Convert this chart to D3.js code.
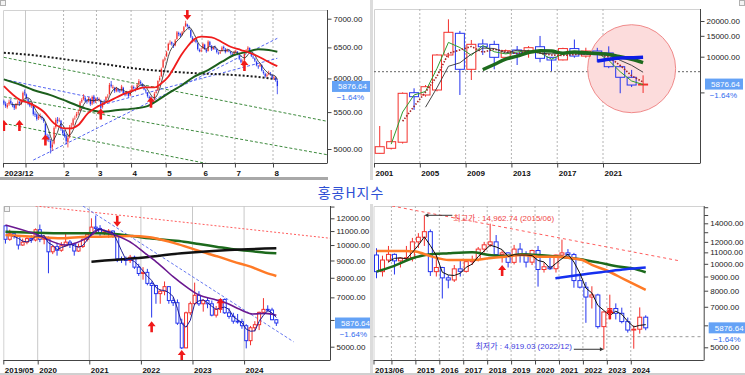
<!DOCTYPE html>
<html>
<head>
<meta charset="utf-8">
<title>홍콩H지수</title>
<script src="https://d3js.org/d3.v7.min.js"></script>
<style>
  body { margin: 0; background: #fff; }
  svg { display: block; font-family: "Liberation Sans", Arial, "Noto Sans CJK KR", sans-serif; }
  .yaxis text { font-family: "Liberation Sans", Arial, sans-serif; font-size: 8px; fill: #222; }
  .xaxis text { font-family: "Liberation Sans", Arial, sans-serif; font-size: 8px; font-weight: bold; fill: #111; }
  .tag { font-size: 8px; }
  .note { font-family: "Liberation Sans", "Noto Sans CJK KR", sans-serif; font-size: 8px; }
</style>
</head>
<body>
<svg width="745" height="375"></svg>
<script>
// last quote
const lastPrice = 5876.64;
const lastChange = -1.64;
const titleText = "홍콩H지수";

// ---------- daily 2023/12 ~ 2024/08  [open, high, low, close]
const dailyOHLC = [
  [5660,5680,5600,5620],[5625,5650,5560,5580],[5570,5630,5550,5600],[5610,5680,5590,5650],[5660,5690,5610,5630],
  [5620,5640,5570,5590],[5600,5610,5530,5560],[5550,5630,5540,5610],[5620,5670,5600,5640],[5650,5660,5590,5620],
  [5610,5680,5600,5660],[5670,5800,5660,5780],[5790,5830,5740,5770],
  [5760,5770,5680,5700],[5690,5700,5600,5620],[5630,5650,5570,5590],[5580,5640,5560,5600],[5590,5600,5450,5470],
  [5480,5510,5430,5460],[5470,5480,5380,5400],[5410,5460,5390,5430],[5440,5480,5410,5440],[5430,5450,5390,5410],
  [5400,5420,5350,5370],[5340,5350,5140,5160],[5170,5200,5100,5150],[5160,5190,5090,5120],[5110,5130,4943,5010],
  [5020,5090,4980,5060],[5070,5300,5060,5280],[5290,5420,5270,5390],[5400,5430,5340,5370],[5380,5420,5360,5390],
  [5380,5390,5240,5260],[5250,5270,5180,5210],
  [5220,5250,5150,5170],[5180,5200,5060,5100],[5090,5170,5020,5150],[5160,5320,5140,5290],[5300,5350,5260,5310],
  [5320,5420,5300,5400],[5410,5450,5390,5420],[5440,5500,5420,5480],[5490,5530,5460,5500],[5520,5660,5510,5640],
  [5650,5700,5630,5680],[5690,5760,5670,5720],[5710,5730,5640,5660],[5670,5690,5620,5650],[5660,5720,5640,5700],
  [5690,5700,5590,5610],[5620,5740,5600,5720],[5730,5750,5620,5640],[5650,5710,5630,5690],
  [5700,5720,5660,5690],[5680,5710,5650,5680],[5670,5680,5540,5560],[5570,5650,5550,5640],[5650,5680,5610,5640],
  [5650,5730,5640,5720],[5730,5760,5700,5740],[5760,5930,5750,5900],[5910,5960,5860,5880],[5870,5900,5840,5870],
  [5860,5870,5780,5800],[5810,5870,5790,5850],[5840,5850,5790,5810],[5820,5840,5780,5800],[5810,5900,5800,5880],
  [5860,5870,5750,5770],[5780,5790,5730,5750],[5760,5810,5740,5790],[5780,5800,5710,5730],[5740,5830,5730,5810],
  [5820,5900,5810,5880],[5870,5890,5830,5850],[5840,5860,5800,5830],[5840,5920,5830,5900],[5910,5990,5890,5960],
  [5950,5970,5900,5920],[5910,5930,5860,5880],[5870,5890,5820,5830],[5820,5840,5780,5800],[5780,5790,5710,5730],
  [5720,5740,5680,5700],[5710,5730,5660,5680],[5670,5690,5620,5650],[5680,5790,5670,5770],[5780,5830,5770,5800],
  [5820,5970,5810,5960],[5970,6040,5950,6010],[6030,6170,6020,6150],[6170,6310,6160,6290],[6300,6350,6270,6320],
  [6350,6440,6340,6420],[6450,6580,6440,6560],[6570,6620,6540,6580],[6590,6600,6530,6560],[6550,6570,6490,6520],
  [6530,6640,6520,6620],[6640,6780,6630,6760],[6750,6770,6690,6720],[6730,6750,6670,6700],[6710,6780,6700,6760],
  [6770,6870,6760,6850],[6870,6963,6850,6920],[6900,6910,6840,6870],[6860,6880,6800,6830],[6800,6810,6660,6680],
  [6670,6690,6580,6600],[6610,6650,6590,6620],[6630,6640,6570,6590],[6570,6580,6450,6470],[6460,6480,6420,6440],
  [6450,6490,6420,6450],
  [6480,6580,6470,6560],[6550,6560,6460,6470],[6460,6480,6410,6430],[6440,6620,6430,6600],[6590,6610,6520,6540],
  [6530,6540,6440,6460],[6470,6520,6460,6500],[6510,6530,6460,6480],[6470,6480,6400,6420],[6410,6430,6380,6400],
  [6410,6450,6390,6430],[6440,6520,6430,6500],[6510,6530,6460,6480],[6470,6490,6400,6420],[6430,6480,6420,6460],
  [6450,6470,6420,6440],[6430,6440,6380,6400],[6390,6410,6350,6380],[6390,6440,6380,6420],
  [6430,6460,6410,6440],[6430,6440,6370,6380],[6370,6380,6290,6310],[6300,6320,6240,6260],[6270,6300,6190,6280],
  [6290,6420,6280,6400],[6410,6470,6400,6450],[6460,6520,6440,6500],[6490,6500,6400,6420],[6410,6420,6340,6360],
  [6350,6370,6310,6330],[6320,6330,6260,6280],[6270,6280,6190,6200],[6190,6210,6150,6180],[6190,6240,6180,6220],
  [6210,6220,6110,6120],[6110,6130,6060,6080],[6070,6090,6010,6030],[6040,6080,6020,6060],[6070,6120,6050,6090],
  [6080,6100,6040,6060],[6050,6070,5990,6010],
  [6000,6040,5980,6020],[6010,6030,5950,5975],[5960,5990,5760,5876.64]
];
const dailyTicks = [[0,"2023/12"],[13,""],[35,"2"],[54,"3"],[74,"4"],[94,"5"],[115,"6"],[134,"7"],[156,"8"]];
const dailyYearStart = [13];
const dailyMa20 = [[0,5882],[9.5,5673],[15,5625],[23,5505],[29,5342],[35,5274],[39,5274],[43,5319],[48.5,5482],
  [54,5576],[62,5673],[70,5772],[75.5,5822],[81,5862],[87,5862],[91,5924],[95,6026],[98.6,6184],[102.5,6373],
  [106,6511],[110,6637],[114,6682],[120,6670],[125.6,6596],[131,6511],[137,6456],[143,6399],[149,6320],[154.5,6238],[158,6193]];
const dailyMa60 = [[0,5985],[10,5898],[17,5822],[27,5747],[37,5649],[47,5553],[56,5505],[66,5529],[76,5553],
  [83,5586],[89,5673],[95,5772],[103,5898],[110,6026],[118,6131],[126,6264],[133,6373],[141,6428],[147,6468],[153,6456],[158,6428]];
const dailyMa200 = [[0,6411],[17,6370],[37,6297],[56,6233],[76,6155],[95,6108],[114,6076],[133,6053],[149,6016],[158,5985]];
const dailyGreenTrends = [[[0,6335],[188,5365]], [[0,5722],[188,4922]], [[0,5342],[188,4524]]];
const dailyBlueTrends = [[[17,4859],[158,6654]], [[0,5985],[53,5699]], [[54,5586],[158,6320]]];
const dailyUpArrows = [[0,5390],[9,5390],[24,5190],[56,5553],[85,5722],[139,6291]];
const dailyDownArrows = [[106,6975]];

// ---------- yearly 2001 ~ 2024
const yearlyOHLC = [
  [1532,2604,1520,1742],[1689,2410,1650,1920],[1900,5000,1850,4913],[4970,5414,3553,4600],[4754,5770,4600,5585],
  [5238,10500,5100,10336],[10336,20670,9800,16060],[15750,16500,4754,7830],[7830,13830,6360,12720],[12800,14020,10330,12140],
  [12700,13640,7830,9880],[9880,11500,9500,11235],[11390,12310,8510,10680],[11020,12300,9800,11910],[12140,14963,8970,9690],
  [9880,9950,7576,9380],[9394,11900,9300,11709],[11709,13960,9800,10124],[10124,11900,9800,11168],[11170,11880,8990,10400],
  [10755,12229,8000,8236],[8236,8500,4919,6705],[6705,7740,5546,5769],[5769,6963,4943,5876.64]
];
const yearlyTicks = [[0,"2001"],[4,"2005"],[8,"2009"],[12,"2013"],[16,"2017"],[20,"2021"]];
const yearlyRefLine = 7473;
const yearlyCircle = [22.5, 7920];

// ---------- monthly 2019/05 ~ 2024/08
const monthlyOHLC = [
  [11400,11450,10100,10400],[10400,11100,10300,10800],[10800,11000,10450,10600],[10600,10650,9700,10000],[10000,10450,9950,10200],
  [10200,10550,10050,10450],[10450,10700,10150,10350],[10350,11200,10250,11100],[11100,11500,10200,10400],[10400,10700,10050,10500],
  [10450,10600,8250,9550],[9550,10000,9400,9890],[9890,10150,9300,9650],[9650,10200,9550,9950],[9950,10900,9900,10200],
  [10200,10350,9800,10050],[10050,10150,9300,9600],[9600,10100,9550,9900],[9900,10450,9800,10400],[10400,10800,10250,10755],
  [10755,12000,10700,11300],[11300,12229,11000,11200],[11200,11450,10600,10900],[10900,11100,10700,10950],[10950,11150,10500,11000],
  [11000,11050,10500,10700],[10700,10800,8900,9100],[9100,9250,8850,9050],[9050,9250,8700,9000],[9000,9350,8850,9200],
  [9200,9300,8500,8600],[8600,8800,8100,8236],[8236,8600,7900,8300],[8300,8500,7600,7700],[7700,7800,6100,7590],
  [7590,7620,6700,7180],[7180,7400,6700,7300],[7300,7800,7100,7530],[7530,7560,6700,6850],[6850,7000,6600,6750],
  [6750,6900,5800,5870],[5870,6050,4919,4960],[4960,6350,4950,6300],[6300,6800,6200,6705],[6705,7740,6650,7100],
  [7100,7300,6600,6700],[6700,6900,6350,6850],[6850,7000,6500,6700],[6700,6850,6150,6200],[6200,6600,6100,6450],
  [6450,6950,6300,6900],[6900,6950,6250,6300],[6300,6500,6050,6150],[6150,6300,5850,5950],[5950,6250,5850,5930],
  [5930,6050,5650,5769],[5769,5830,4943,5210],[5210,5760,5050,5690],[5690,5950,5550,5810],[5810,6350,5600,6320],
  [6320,6963,6300,6450],[6450,6630,6350,6420],[6420,6520,5990,6010],[6010,6040,5760,5876.64]
];
const monthlyTicks = [[0,"2019/05"],[8,"2020"],[20,"2021"],[32,"2022"],[44,"2023"],[56,"2024"]];
const monthlyMa12 = [[0,11460],[6.5,10831],[14,10000],[19.5,10588],[22,11130],[24.5,10831],[29.5,10117],[32.5,9450],
  [35.5,8827],[39,8060],[42,7528],[45,7110],[48.5,6905],[51.5,6720],[54.5,6450],[57.5,6250],[60.5,6277],[63,6200]];
const monthlyMa60 = [[0,10709],[6.5,10588],[13,10469],[19,10588],[22,10588],[29,10636],[33.5,10541],[36.5,10350],
  [39.5,10117],[42.5,9845],[45.5,9558],[49.5,9238],[53,8928],[57,8629],[60.5,8283],[63,8097]];
const monthlyMa120 = [[0,10955],[6.5,10880],[14,10831],[22,10831],[29.5,10636],[33.5,10469],[37.5,10350],[41.5,10234],
  [45,10071],[49,9890],[53,9711],[57,9600],[60.5,9493],[63,9450]];
const monthlyMa240 = [[20,8928],[30,9134],[41,9450],[52,9667],[63,9778]];
const monthlyRedTrend = [[7,13050],[75.6,10470]];
const monthlyBlueTrend = [[18,13050],[67,5172]];
const monthlyUpArrows = [[34,5946],[41,4888],[50,6953]];
const monthlyDownArrows = [[26,11335]];

// ---------- quarterly 2013/06 ~ 2024/09
const quarterlyOHLC = [
  [10760,11380,8870,9370],[9370,10700,9000,10320],[10320,11600,10100,10816],[10816,10900,9150,10250],[10250,10550,9700,10474],
  [10474,11600,10300,10520],[10520,12400,10200,12000],[12000,12900,11400,12470],[12470,14962.74,11600,13060],[13060,13300,9040,9370],
  [9370,10800,9000,9700],[9700,9750,7498,8900],[8900,9100,8160,8745],[8745,9900,8600,9590],[9590,10350,9000,9394],
  [9394,10300,9300,10180],[10180,10700,9900,10365],[10365,11500,10200,11300],[11300,12000,11000,11709],[11709,13962,11500,12000],
  [12000,12700,10700,10800],[10800,11200,10100,10950],[10950,11000,9700,10124],[10124,11700,9950,11300],[11300,11881,10100,10840],
  [10840,11100,9700,10140],[10140,11250,9900,11168],[11168,11600,8274,9540],[9540,10100,9300,9760],[9760,10500,9500,9600],
  [9600,10800,9300,10755],[10755,12229,10500,10950],[10950,11300,10500,10800],[10800,10950,8200,8700],[8700,9200,8150,8236],
  [8236,8600,6127,7590],[7590,8300,6900,7720],[7720,7800,5840,5936],[5936,6740,4919.03,6705],[6705,7740,6300,6900],
  [6900,7200,6300,6631],[6631,6950,6100,6190],[6190,6400,5650,5769],[5769,6000,4943,5810],[5810,6963,5600,6420],
  [6420,6520,5760,5876.64]
];
const quarterlyTicks = [[0,"2013/06"],[3,""],[7,"2015"],[11,"2016"],[15,"2017"],[19,"2018"],[23,"2019"],[27,"2020"],
  [31,"2021"],[35,"2022"],[39,"2023"],[43,"2024"]];
const quarterlyMa12 = [[0,11127],[4.8,11127],[6.5,11067],[9.3,10615],[12.1,10325],[16,10325],[18.8,10469],[21.5,10615],
  [24.3,10763],[27.1,10615],[29.9,10615],[32.7,10469],[34.4,10325],[36,9905],[38.3,9502],[41.6,8745],[45,8048]];
const quarterlyMa20 = [[0,9372],[2.6,9769],[6,10469],[8.2,10763],[12.1,10913],[16,11004],[18.8,10763],[21.5,10674],
  [24.3,10823],[27.1,10763],[30.5,10615],[33.8,10410],[37.2,10099],[39.9,9823],[42.7,9635],[45,9320]];
const quarterlyMa80 = [[29.9,8867],[33.8,9116],[38.3,9372],[41.6,9555],[45,9690]];
const quarterlyRedTrend = [[2.6,16163],[50.8,10237]];
const quarterlyRefLine = 5460;
const quarterlyHigh = { i: 8, v: 14962.74, text: "최고가 : 14,962.74 (2015/06)" };
const quarterlyLow = { i: 38, v: 4919.03, text: "최저가 : 4,919.03 (2022/12)" };
const quarterlyUpArrows = [[21,9905],[39,6910]];

// ---------------------------------------------------------------
const svg = d3.select("svg");
const UP = "#f3302c", DOWN = "#2434ee";
const f2 = d3.format(".2f");

function makePanel(p) {
  const x = d3.scaleLinear().domain([0, p.slots]).range([p.left, p.right]);
  const y = d3.scaleLog().domain(p.yDomain).range(p.yRange);
  const cx = i => x(i + 0.5);
  const id = "clip-" + p.id;
  svg.append("clipPath").attr("id", id).append("rect")
    .attr("x", p.left).attr("y", p.top)
    .attr("width", p.right - p.left).attr("height", p.bottom - p.top);
  const g = svg.append("g");
  g.append("path")
    .attr("d", `M${p.left + 0.5},${p.bottom}V${p.top + 0.5}H${p.right}`)
    .attr("fill", "none").attr("stroke", "#d2d2d2");
  g.append("g").selectAll("line").data(p.grid).join("line")
    .attr("x1", d => x(d)).attr("x2", d => x(d))
    .attr("y1", p.top).attr("y2", p.bottom)
    .attr("stroke", d => p.solid.includes(d) ? "#c8c8c8" : "#b4b4b4")
    .attr("stroke-dasharray", d => p.solid.includes(d) ? null : "2,2");
  const plot = g.append("g").attr("clip-path", `url(#${id})`);
  return { p, x, y, cx, g, plot };
}

function drawAxes(P, yTicks, yLabels, xTicks) {
  const { p, x, y, g } = P;
  g.append("g").attr("class", "yaxis")
    .attr("transform", `translate(${p.right + 0.5},0)`)
    .call(d3.axisRight(y).tickValues(yTicks)
      .tickFormat(v => yLabels.includes(v) ? f2(v) : "")
      .tickSize(4).tickPadding(2))
    .call(a => a.select(".domain").remove())
    .call(a => a.selectAll("line").attr("stroke", "#444"));
  g.append("line").attr("x1", p.right + 0.5).attr("x2", p.right + 0.5)
    .attr("y1", p.top).attr("y2", p.bottom + 0.5).attr("stroke", "#444");
  g.append("line").attr("x1", p.left).attr("x2", p.right)
    .attr("y1", p.bottom + 0.5).attr("y2", p.bottom + 0.5).attr("stroke", "#444");
  const xa = g.append("g").attr("class", "xaxis")
    .attr("transform", `translate(0,${p.bottom + 0.5})`)
    .call(d3.axisBottom(x).tickValues(xTicks.map(d => d[0]))
      .tickFormat((d, k) => xTicks[k][1]).tickSize(4).tickPadding(3))
    .call(a => a.select(".domain").remove())
    .call(a => a.selectAll("line").attr("stroke", "#444"));
  xa.selectAll("text").attr("text-anchor", "start").attr("x", 1);
}

function drawCandles(P, data, w, filled) {
  const { y, cx, plot } = P;
  const col = d => d[3] >= d[0] ? UP : DOWN;
  const top = d => y(Math.max(d[0], d[3])), bot = d => y(Math.min(d[0], d[3]));
  const c = plot.append("g").selectAll("g").data(data).join("g")
    .attr("stroke", col);
  c.append("line")
    .attr("x1", (d, i) => cx(i)).attr("x2", (d, i) => cx(i))
    .attr("y1", d => y(d[1])).attr("y2", top).attr("stroke-width", filled ? 0.8 : 1);
  c.append("line")
    .attr("x1", (d, i) => cx(i)).attr("x2", (d, i) => cx(i))
    .attr("y1", bot).attr("y2", d => y(d[2])).attr("stroke-width", filled ? 0.8 : 1);
  c.append("rect")
    .attr("x", (d, i) => cx(i) - w / 2).attr("y", top)
    .attr("width", w).attr("height", d => Math.max(0.8, bot(d) - top(d)))
    .attr("fill", d => filled ? col(d) : "none")
    .attr("stroke", filled ? "none" : null);
}

function drawLine(P, pts, color, width, dash, curve) {
  P.plot.append("path").datum(pts)
    .attr("d", d3.line().x(d => P.cx(d[0])).y(d => P.y(d[1])).curve(curve || d3.curveMonotoneX))
    .attr("fill", "none").attr("stroke", color).attr("stroke-width", width)
    .attr("stroke-dasharray", dash || null).attr("stroke-linejoin", "round");
}

function movingAvg(data, n) {
  const out = [];
  for (let i = n - 1; i < data.length; i++)
    out.push([i, d3.mean(data.slice(i - n + 1, i + 1), d => d[3])]);
  return out;
}

function drawArrows(P, pts, up) {
  P.plot.append("g").selectAll("path").data(pts).join("path")
    .attr("d", "M0,0L4,5H1.3V11H-1.3V5H-4Z")
    .attr("transform", d => `translate(${P.cx(d[0])},${P.y(d[1])}) scale(1,${up ? 1 : -1})`)
    .attr("fill", "#f01a1a");
}

function priceTag(P) {
  const { p, y, g } = P;
  const yy = y(lastPrice);
  g.append("rect").attr("x", p.right + 5).attr("y", yy - 5.5)
    .attr("width", 38).attr("height", 11).attr("fill", "#64a2f6");
  g.append("text").attr("class", "tag").attr("x", p.right + 40).attr("y", yy + 3)
    .attr("text-anchor", "end").attr("fill", "#fff").text(f2(lastPrice));
  g.append("text").attr("class", "tag").attr("x", p.right + 37).attr("y", yy + 14)
    .attr("text-anchor", "end").attr("fill", "#2e6cee").text(f2(lastChange) + "%");
}

// ---------------- panel 1 : daily
const P1 = makePanel({ id: "d", left: 3, right: 327, top: 10, bottom: 163, slots: 187.2,
  yDomain: [5000, 7000], yRange: [149, 18.7],
  grid: dailyTicks.map(d => d[0]).filter(d => d > 0), solid: dailyYearStart });
dailyGreenTrends.forEach(t => drawLine(P1, t, "#3d8a3d", 1, "3,2", d3.curveLinear));
dailyBlueTrends.forEach(t => drawLine(P1, t, "#5566f2", 1, "3,2", d3.curveLinear));
drawLine(P1, dailyMa200, "#1a1a1a", 2, "2,2");
drawCandles(P1, dailyOHLC, 1.4, true);
drawLine(P1, movingAvg(dailyOHLC, 5), "#222", 0.8, null, d3.curveLinear);
drawLine(P1, dailyMa60, "#1c5f1c", 2);
drawLine(P1, dailyMa20, "#f01c1c", 1.8);
drawArrows(P1, dailyUpArrows, true);
drawArrows(P1, dailyDownArrows, false);
drawAxes(P1, [5000, 5500, 6000, 6500, 7000], [5000, 5500, 6000, 6500, 7000], dailyTicks);
priceTag(P1);

// ---------------- panel 2 : yearly
const P2 = makePanel({ id: "y", left: 374, right: 700, top: 9, bottom: 163, slots: 28.47,
  yDomain: [10000, 20000], yRange: [56.7, 21],
  grid: yearlyTicks.map(d => d[0]).filter(d => d > 0), solid: [] });
P2.plot.append("line").attr("x1", P2.p.left).attr("x2", P2.p.right)
  .attr("y1", P2.y(yearlyRefLine)).attr("y2", P2.y(yearlyRefLine))
  .attr("stroke", "#666").attr("stroke-dasharray", "2,2");
P2.plot.append("circle").attr("cx", P2.x(yearlyCircle[0])).attr("cy", P2.y(yearlyCircle[1]))
  .attr("r", 44).attr("fill", "#fcdcdc").attr("stroke", "#f08a8a");
drawCandles(P2, yearlyOHLC, 9, false);
drawLine(P2, movingAvg(yearlyOHLC, 2), "#2f9c2f", 1, null, d3.curveLinear);
drawLine(P2, movingAvg(yearlyOHLC, 3), "#a52424", 1.6, "1.5,1.5", d3.curveLinear);
drawLine(P2, movingAvg(yearlyOHLC, 5), "#333", 0.9, null, d3.curveLinear);
drawLine(P2, movingAvg(yearlyOHLC, 10), "#1d6a1d", 3.5, null, d3.curveMonotoneX);
drawLine(P2, movingAvg(yearlyOHLC, 20), "#0d1de6", 3.5, null, d3.curveMonotoneX);
drawAxes(P2, [5000, 10000, 15000, 20000], [10000, 15000, 20000], yearlyTicks);
priceTag(P2);

// ---------------- panel 3 : monthly
const P3 = makePanel({ id: "m", left: 3.3, right: 330, top: 206, bottom: 360, slots: 75.98,
  yDomain: [5000, 12000], yRange: [346.7, 218.3],
  grid: monthlyTicks.map(d => d[0]).filter(d => d > 0), solid: [8, 20, 32, 44, 56] });
drawLine(P3, monthlyRedTrend, "#ff5c5c", 1, "2,2", d3.curveLinear);
drawLine(P3, monthlyBlueTrend, "#6677f0", 1, "3,2", d3.curveLinear);
drawCandles(P3, monthlyOHLC, 3, false);
drawLine(P3, monthlyMa120, "#1c6a1c", 2.5);
drawLine(P3, monthlyMa60, "#ff7a26", 2.5);
drawLine(P3, monthlyMa240, "#111", 2.5);
drawLine(P3, monthlyMa12, "#6a1890", 1.6);
drawLine(P3, movingAvg(monthlyOHLC, 3), "#1c1c96", 1, null, d3.curveLinear);
drawArrows(P3, monthlyUpArrows, true);
drawArrows(P3, monthlyDownArrows, false);
drawAxes(P3, [5000, 6000, 7000, 8000, 9000, 10000, 11000, 12000, 13000],
  [5000, 7000, 8000, 9000, 10000, 11000, 12000], monthlyTicks);
priceTag(P3);

// ---------------- panel 4 : quarterly
const P4 = makePanel({ id: "q", left: 373.5, right: 703.7, top: 206, bottom: 360, slots: 55.19,
  yDomain: [5000, 14000], yRange: [347.3, 223.3],
  grid: quarterlyTicks.map(d => d[0]).filter(d => d > 0), solid: [] });
P4.plot.append("line").attr("x1", P4.p.left).attr("x2", P4.p.right)
  .attr("y1", P4.y(quarterlyRefLine)).attr("y2", P4.y(quarterlyRefLine))
  .attr("stroke", "#9a9a9a").attr("stroke-dasharray", "3,3");
drawLine(P4, quarterlyRedTrend, "#ff5c5c", 1, "3,3", d3.curveLinear);
drawCandles(P4, quarterlyOHLC, 4, false);
drawLine(P4, quarterlyMa20, "#1c6a1c", 2.5);
drawLine(P4, quarterlyMa12, "#ff7a26", 2.5);
drawLine(P4, quarterlyMa80, "#1530f0", 2.5);
drawLine(P4, movingAvg(quarterlyOHLC, 3), "#111", 1, null, d3.curveLinear);
drawArrows(P4, quarterlyUpArrows, true);
drawAxes(P4, [5000, 6000, 7000, 8000, 9000, 10000, 11000, 12000, 13000, 14000, 15000, 16000],
  [5000, 7000, 8000, 9000, 10000, 11000, 12000, 14000], quarterlyTicks);
priceTag(P4);

// high / low notes
{
  const hx = P4.cx(quarterlyHigh.i), hy = P4.y(quarterlyHigh.v);
  P4.g.append("line").attr("x1", hx + 3).attr("x2", hx + 28).attr("y1", hy).attr("y2", hy).attr("stroke", "#333");
  P4.g.append("path").attr("d", `M${hx},${hy}l4,-2v4z`).attr("fill", "#333");
  P4.g.append("text").attr("class", "note").attr("x", hx + 29).attr("y", hy + 6)
    .attr("fill", "#f04848").text(quarterlyHigh.text);
  const lx = P4.cx(quarterlyLow.i), ly = P4.y(quarterlyLow.v);
  P4.g.append("line").attr("x1", lx - 30).attr("x2", lx - 3).attr("y1", ly).attr("y2", ly).attr("stroke", "#333");
  P4.g.append("path").attr("d", `M${lx},${ly}l-4,-2v4z`).attr("fill", "#333");
  P4.g.append("text").attr("class", "note").attr("x", lx - 32).attr("y", ly)
    .attr("text-anchor", "end").attr("fill", "#3c3ce0").text(quarterlyLow.text);
}

// frame pieces
svg.append("rect").attr("x", 0).attr("y", 177).attr("width", 328).attr("height", 3).attr("fill", "#a8a8a8");
svg.append("rect").attr("x", 370).attr("y", 0).attr("width", 3).attr("height", 180).attr("fill", "#dcdcdc");
svg.append("rect").attr("x", 370).attr("y", 204).attr("width", 3).attr("height", 171).attr("fill", "#dcdcdc");
svg.append("rect").attr("x", 0).attr("y", 373).attr("width", 745).attr("height", 2).attr("fill", "#d0d0d0");
[[0.5, 0.5], [739.5, 0.5], [4.5, 206.5]].forEach(([a, b]) =>
  svg.append("rect").attr("x", a).attr("y", b).attr("width", 5).attr("height", 5)
    .attr("fill", "#f4f4f4").attr("stroke", "#b0b0b0"));

svg.append("text").attr("x", 351).attr("y", 198).attr("text-anchor", "middle")
  .attr("font-family", "Noto Sans CJK KR").attr("font-size", 14).attr("letter-spacing", 1)
  .attr("fill", "#2e50d4").text(titleText);
</script>
</body>
</html>
